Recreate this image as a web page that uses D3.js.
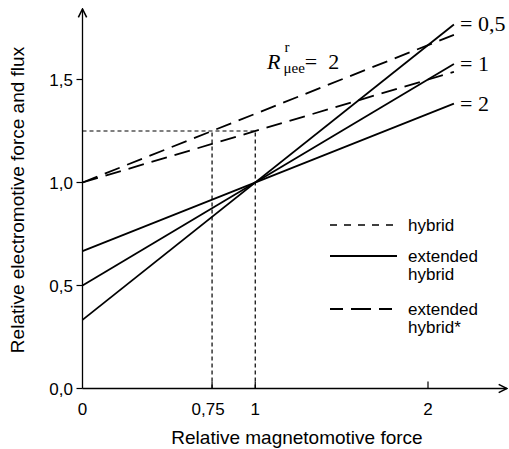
<!DOCTYPE html>
<html>
<head>
<meta charset="utf-8">
<script src="https://cdn.jsdelivr.net/npm/d3@7"></script>
<style>
  body { margin: 0; background: #fff; }
  text { font-family: "Liberation Sans", Arial, sans-serif; fill: #000; }
  .serif { font-family: "Liberation Serif", "Times New Roman", serif; }
</style>
</head>
<body>
<svg id="chart" width="509" height="449"></svg>
<script>
// values
const xTicks = [0, 0.75, 1, 2];
const xTickLabels = ["0", "0,75", "1", "2"];
const yTicks = [0, 0.5, 1, 1.5];
const yTickLabels = ["0,0", "0,5", "1,0", "1,5"];

// extended hybrid (solid), one line per R ratio
const ratioLabels = ["= 0,5", "= 1", "= 2"];
const lineX = [0, 2.15];
const solid05 = [0.333, 1.767];
const solid1 = [0.5, 1.575];
const solid2 = [0.667, 1.383];

// extended hybrid* (long dash), R = 0,5 and R = 1
const star05 = [1.0, 1.717];
const star1 = [1.0, 1.537];

// hybrid (short dash) guide lines
const hybridLevel = 1.25;
const hybridX = [0.75, 1];

const svg = d3.select("#chart");

const x = d3.scaleLinear().domain([0, 2]).range([82.5, 428]);
const y = d3.scaleLinear().domain([0, 1]).range([388.5, 182.5]);

const line = d3.line().x(d => x(d[0])).y(d => y(d[1]));
const pts = ys => lineX.map((v, i) => [v, ys[i]]);

// axes with arrows
svg.append("defs").append("marker")
  .attr("id", "arrow")
  .attr("viewBox", "0 0 10 10")
  .attr("refX", 9).attr("refY", 5)
  .attr("markerWidth", 8).attr("markerHeight", 8)
  .attr("orient", "auto")
  .append("path")
  .attr("d", "M1,1 L9,5 L1,9")
  .attr("fill", "none").attr("stroke", "#000").attr("stroke-width", 1.5);

svg.append("line")
  .attr("x1", x(0)).attr("y1", y(0))
  .attr("x2", 507).attr("y2", y(0))
  .attr("stroke", "#000").attr("stroke-width", 1.3)
  .attr("marker-end", "url(#arrow)");

svg.append("line")
  .attr("x1", x(0)).attr("y1", y(0))
  .attr("x2", x(0)).attr("y2", 9)
  .attr("stroke", "#000").attr("stroke-width", 1.3)
  .attr("marker-end", "url(#arrow)");

// ticks: y ticks point left, x ticks point up
svg.selectAll(".ytick")
  .data(yTicks)
  .enter()
  .append("line")
  .attr("x1", x(0) - 6).attr("x2", x(0))
  .attr("y1", d => y(d)).attr("y2", d => y(d))
  .attr("stroke", "#000").attr("stroke-width", 1.2);

svg.selectAll(".ylabel")
  .data(yTicks)
  .enter()
  .append("text")
  .attr("x", 73)
  .attr("y", d => y(d) + 6)
  .attr("text-anchor", "end")
  .attr("font-size", 17)
  .text((d, i) => yTickLabels[i]);

svg.selectAll(".xtick")
  .data(xTicks.slice(1))
  .enter()
  .append("line")
  .attr("x1", d => x(d)).attr("x2", d => x(d))
  .attr("y1", y(0) - 7).attr("y2", y(0))
  .attr("stroke", "#000").attr("stroke-width", 1.2);

svg.selectAll(".xlabel")
  .data(xTicks)
  .enter()
  .append("text")
  .attr("x", (d, i) => x(d) - (i === 1 ? 4 : 0))
  .attr("y", 415)
  .attr("text-anchor", "middle")
  .attr("font-size", 17)
  .text((d, i) => xTickLabels[i]);

// axis titles
svg.append("text")
  .attr("x", 297).attr("y", 444)
  .attr("text-anchor", "middle")
  .attr("font-size", 19)
  .text("Relative magnetomotive force");

svg.append("text")
  .attr("transform", `translate(24,${200}) rotate(-90)`)
  .attr("text-anchor", "middle")
  .attr("font-size", 19)
  .text("Relative electromotive force and flux");

// hybrid guide lines
const shortDash = "4,3";
svg.append("path")
  .attr("d", line([[0, hybridLevel], [1, hybridLevel]]))
  .attr("fill", "none").attr("stroke", "#000")
  .attr("stroke-width", 1.2).attr("stroke-dasharray", shortDash);

svg.selectAll(".hybridv")
  .data(hybridX)
  .enter()
  .append("path")
  .attr("d", d => line([[d, 0], [d, hybridLevel]]))
  .attr("fill", "none").attr("stroke", "#000")
  .attr("stroke-width", 1.2).attr("stroke-dasharray", shortDash);

// extended hybrid* long dash
[star05, star1].forEach(ys => {
  svg.append("path")
    .attr("d", line(pts(ys)))
    .attr("fill", "none").attr("stroke", "#000")
    .attr("stroke-width", 1.8).attr("stroke-dasharray", "16,8");
});

// extended hybrid solid
[solid05, solid1, solid2].forEach(ys => {
  svg.append("path")
    .attr("d", line(pts(ys)))
    .attr("fill", "none").attr("stroke", "#000")
    .attr("stroke-width", 1.8);
});

// ratio labels at the line ends
[solid05, solid1, solid2].forEach((ys, i) => {
  svg.append("text")
    .attr("class", "serif")
    .attr("x", 460)
    .attr("y", y(ys[1]) + 7)
    .attr("font-size", 22)
    .text(ratioLabels[i]);
});

// R label
const rLabel = svg.append("text").attr("class", "serif").attr("x", 267).attr("y", 69).attr("font-size", 22);
rLabel.append("tspan").attr("font-style", "italic").text("R");
rLabel.append("tspan").attr("font-size", 15).attr("dx", 4).attr("dy", -17).text("r");
rLabel.append("tspan").attr("font-size", 15).attr("dx", -6).attr("dy", 21).text("\u03bcee");
rLabel.append("tspan").attr("dy", -4).text("=\u00a0 2");

// legend
const legendItems = [
  { dash: "7,7", width: 1.3, lines: ["hybrid"], y: 225 },
  { dash: null, width: 1.8, lines: ["extended", "hybrid"], y: 256 },
  { dash: "13,8,20,8", width: 1.8, lines: ["extended", "hybrid*"], y: 309 }
];

legendItems.forEach(item => {
  const l = svg.append("line")
    .attr("x1", 330).attr("x2", 397)
    .attr("y1", item.y).attr("y2", item.y)
    .attr("stroke", "#000").attr("stroke-width", item.width);
  if (item.dash) l.attr("stroke-dasharray", item.dash);
  item.lines.forEach((t, j) => {
    svg.append("text")
      .attr("x", 408)
      .attr("y", item.y + 6 + j * 18)
      .attr("font-size", 17)
      .text(t);
  });
});
</script>
</body>
</html>
